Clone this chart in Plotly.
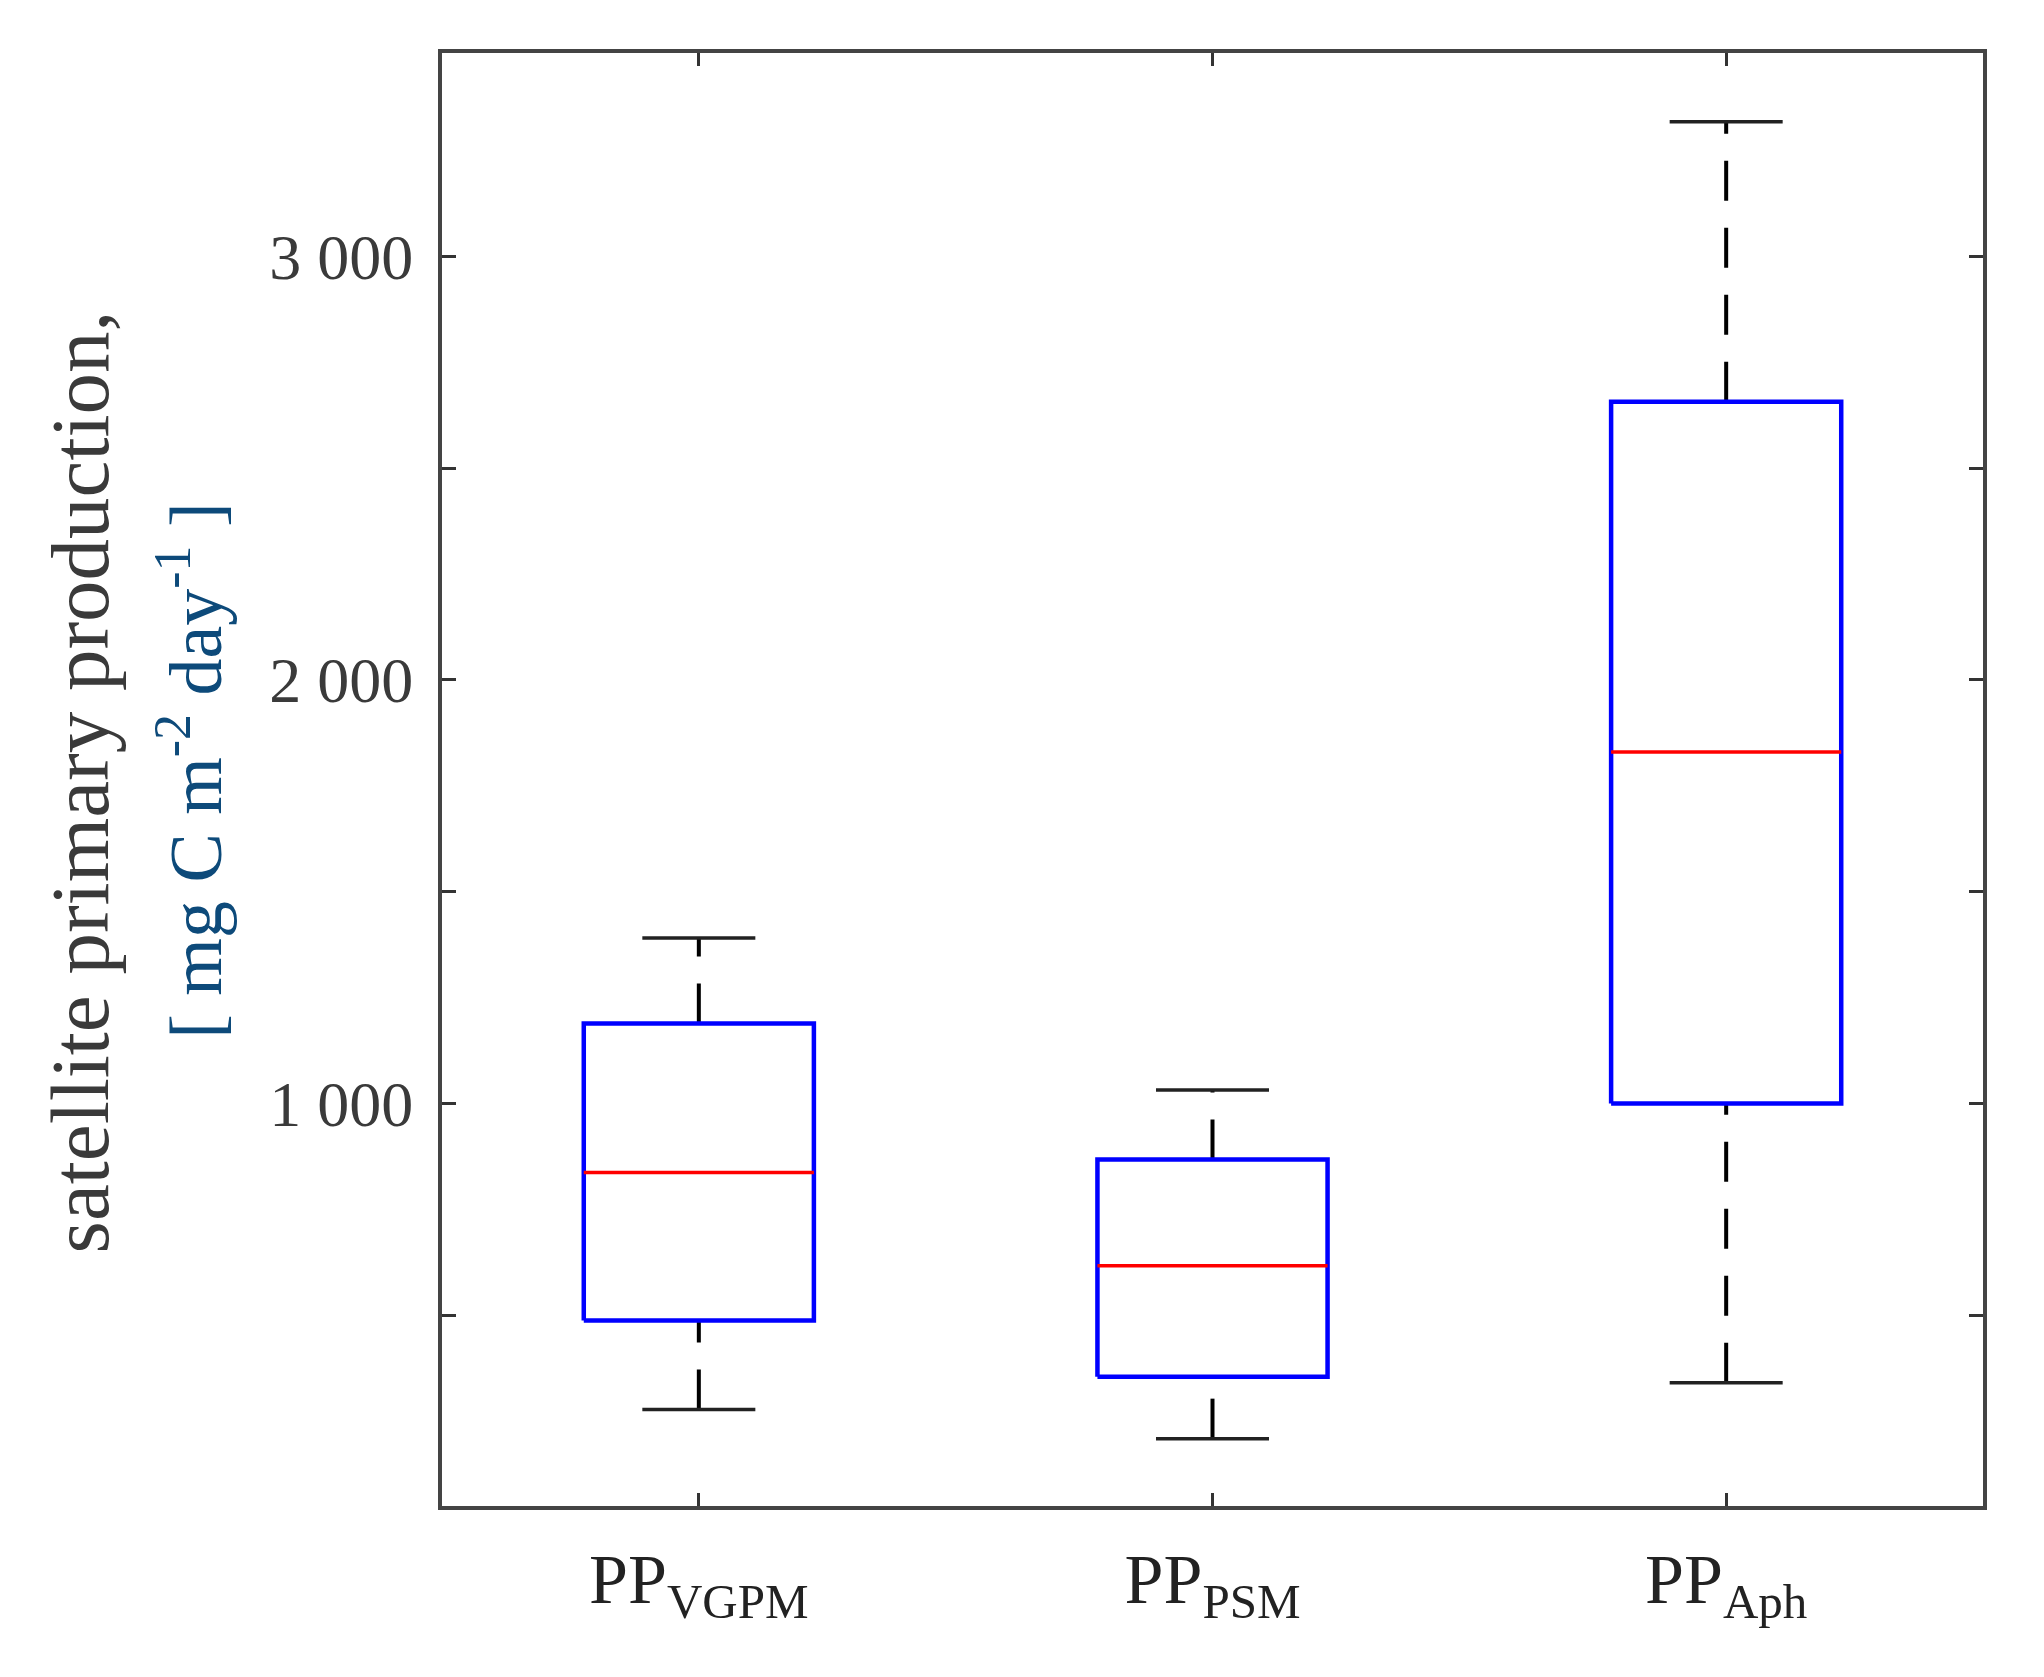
import plotly.graph_objects as go

# ---- data ----
models = ["VGPM", "PSM", "Aph"]
lower_whisker = [278, 209, 341]
q1 = [488, 355, 1000]
median = [837, 617, 1830]
q3 = [1189, 868, 2657]
upper_whisker = [1391, 1032, 3318]

y_tick_values = [1000, 2000, 3000]
y_tick_labels = ["1 000", "2 000", "3 000"]
y_minor_step = 500

# ---- styling ----
BOX_HALF = 0.224
CAP_HALF = 0.11
FONT = "Liberation Serif"
positions = list(range(1, len(models) + 1))

fig = go.Figure()

for p, lw, a, m, b, uw in zip(positions, lower_whisker, q1, median, q3, upper_whisker):
    # whiskers (dashed, drawn upward)
    fig.add_trace(go.Scatter(x=[p, p], y=[lw, a], mode="lines",
                             line=dict(color="black", width=4, dash="40px,27px"),
                             showlegend=False, hoverinfo="skip"))
    fig.add_trace(go.Scatter(x=[p, p], y=[b, uw], mode="lines",
                             line=dict(color="black", width=4, dash="40px,27px"),
                             showlegend=False, hoverinfo="skip"))
    # caps
    for v in (lw, uw):
        fig.add_trace(go.Scatter(x=[p - CAP_HALF, p + CAP_HALF], y=[v, v], mode="lines",
                                 line=dict(color="#222222", width=3.5),
                                 showlegend=False, hoverinfo="skip"))
    # box
    fig.add_trace(go.Scatter(x=[p - BOX_HALF, p + BOX_HALF, p + BOX_HALF, p - BOX_HALF, p - BOX_HALF],
                             y=[a, a, b, b, a], mode="lines",
                             line=dict(color="#0000ff", width=4.5),
                             showlegend=False, hoverinfo="skip"))
    # median
    fig.add_trace(go.Scatter(x=[p - BOX_HALF, p + BOX_HALF], y=[m, m], mode="lines",
                             line=dict(color="#ff0000", width=3.5),
                             showlegend=False, hoverinfo="skip"))

x_labels = ["PP<sub>%s</sub>" % s for s in models]

fig.update_layout(
    width=2044, height=1677,
    margin=dict(l=442, r=61, t=53, b=171),
    paper_bgcolor="white", plot_bgcolor="white",
    font=dict(family=FONT, color="#333333"),
    xaxis=dict(range=[0.5, 3.5], tickvals=positions, ticktext=x_labels,
               showgrid=False, zeroline=False,
               showline=True, linecolor="#444444", linewidth=4, mirror="ticks",
               ticks="inside", ticklen=13, tickwidth=2.5, tickcolor="#333333",
               tickfont=dict(family=FONT, size=70, color="#222222"),
               ticklabelstandoff=9),
    yaxis=dict(range=[50, 3480], tickvals=y_tick_values, ticktext=y_tick_labels,
               showgrid=False, zeroline=False,
               showline=True, linecolor="#444444", linewidth=4, mirror="ticks",
               ticks="inside", ticklen=14, tickwidth=2.5, tickcolor="#333333",
               minor=dict(tick0=0, dtick=y_minor_step, ticks="inside", ticklen=14,
                          tickwidth=2.5, tickcolor="#333333", showgrid=False),
               tickfont=dict(family=FONT, size=64, color="#3a3a3a"),
               ticklabelstandoff=12),
)

fig.add_annotation(text="satellite primary production,", xref="paper", yref="paper",
                   x=(80 - 442) / 1541, y=0.498, xanchor="center", yanchor="middle",
                   textangle=-90, showarrow=False,
                   font=dict(family=FONT, size=83, color="#3a3a3a"))
fig.add_annotation(text="[ mg C m<sup>-2</sup> day<sup>-1</sup> ]", xref="paper", yref="paper",
                   x=(191 - 442) / 1541, y=0.506, xanchor="center", yanchor="middle",
                   textangle=-90, showarrow=False,
                   font=dict(family=FONT, size=74, color="#0d4a7a"))

fig.write_html("out.html", config={"displayModeBar": False},
               post_script="document.body.style.margin='0';")
